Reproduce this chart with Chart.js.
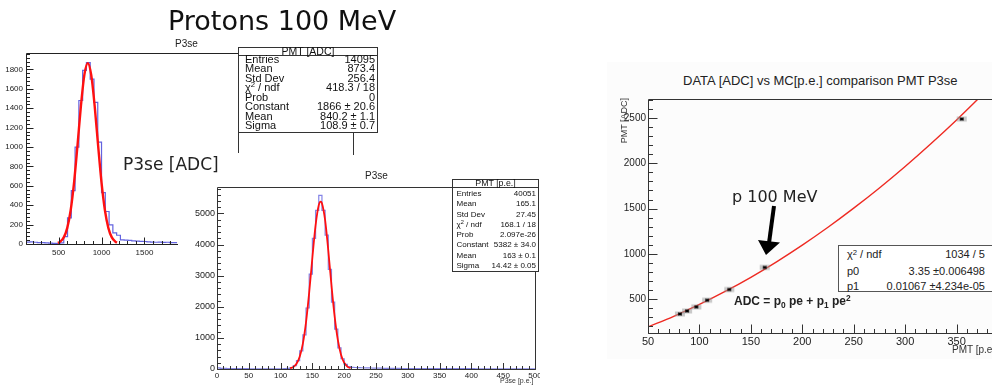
<!DOCTYPE html>
<html>
<head>
<meta charset="utf-8">
<script src="https://cdn.jsdelivr.net/npm/chart.js@4.4.0/dist/chart.umd.min.js"></script>
<style>
html, body { margin: 0; padding: 0; width: 992px; height: 385px; overflow: hidden; background: #fff; }
.box { position: absolute; }
.txt { position: absolute; white-space: nowrap; line-height: 1; color: #111; }
.stats { position: absolute; background: #fff; border: 1px solid #333; box-sizing: border-box;
         font-family: 'Liberation Sans', Arial, sans-serif; color: #111; }
.stats .hdr { text-align: center; border-bottom: 1px solid #333; box-sizing: border-box; }
.stats .row { display: flex; justify-content: space-between; white-space: nowrap; }
.sup { position: relative; top: -0.45em; font-size: 70%; }
.sub { position: relative; top: 0.3em; font-size: 70%; }
</style>
</head>
<body>

<!-- histogramme ADC -->
<div class="box" style="left:0;top:40px;width:360px;height:225px;">
  <canvas id="adcChart" width="360" height="225"></canvas>
</div>
<div class="box" style="left:238px;top:53px;width:1px;height:100px;background:#333;"></div>
<div class="box" style="left:353px;top:130px;width:1px;height:28px;background:#333;"></div>
<div class="txt" style="left:175px;top:38px;font:10px 'Liberation Sans';color:#222;">P3se</div>
<div class="stats" style="left:238px;top:47px;width:140px;height:86px;font-size:11px;">
  <div class="hdr" style="height:8px;line-height:6px;font-size:10.5px;">PMT [ADC]</div>
  <div style="padding:0 2px 0 6px;line-height:9.29px;margin-top:-1px;">
    <div class="row"><span>Entries</span><span>14095</span></div>
    <div class="row"><span>Mean</span><span>873.4</span></div>
    <div class="row"><span>Std Dev</span><span>256.4</span></div>
    <div class="row"><span>χ<span class="sup">2</span> / ndf</span><span>418.3 / 18</span></div>
    <div class="row"><span>Prob</span><span>0</span></div>
    <div class="row"><span>Constant</span><span>1866 ± 20.6</span></div>
    <div class="row"><span>Mean</span><span>840.2 ± 1.1</span></div>
    <div class="row"><span>Sigma</span><span>108.9 ± 0.7</span></div>
  </div>
</div>

<!-- histogramme p.e. -->
<div class="box" style="left:178px;top:155px;width:362px;height:230px;background:#fff;">
  <canvas id="peChart" width="362" height="230"></canvas>
</div>
<div class="txt" style="left:365px;top:170px;font:10px 'Liberation Sans';color:#222;">P3se</div>
<div class="txt" style="left:500px;top:377px;font:7px 'Liberation Sans';color:#333;">P3se [p.e.]</div>
<div class="stats" style="left:452px;top:179px;width:87px;height:93px;font-size:8px;">
  <div class="hdr" style="height:8px;line-height:6px;font-size:8.8px;">PMT [p.e.]</div>
  <div style="padding:0 2px 0 3.5px;line-height:10.29px;margin-top:1px;">
    <div class="row"><span>Entries</span><span>40051</span></div>
    <div class="row"><span>Mean</span><span>165.1</span></div>
    <div class="row"><span>Std Dev</span><span>27.45</span></div>
    <div class="row"><span>χ<span class="sup">2</span> / ndf</span><span>168.1 / 18</span></div>
    <div class="row"><span>Prob</span><span>2.097e-26</span></div>
    <div class="row"><span>Constant</span><span>5382 ± 34.0</span></div>
    <div class="row"><span>Mean</span><span>163 ± 0.1</span></div>
    <div class="row"><span>Sigma</span><span>14.42 ± 0.05</span></div>
  </div>
</div>

<!-- comparaison ADC vs p.e. -->
<div class="box" style="left:607px;top:62px;width:385px;height:297px;background:#fcfcfc;"></div>
<div class="box" style="left:600px;top:90px;width:420px;height:270px;">
  <canvas id="pmtChart" width="420" height="270"></canvas>
</div>
<div class="txt" style="left:683px;top:73px;font:13px 'Liberation Sans';color:#222;">DATA [ADC] vs MC[p.e.] comparison PMT P3se</div>
<div class="txt" style="left:619px;top:158px;width:60px;text-align:right;font:9px 'Liberation Sans';color:#333;transform:rotate(-90deg);transform-origin:0 0;">PMT [ADC]</div>
<div class="txt" style="left:952px;top:344px;font:10px 'Liberation Sans';color:#333;">PMT [p.e.]</div>
<div class="stats" style="left:838px;top:245px;width:162px;height:47px;font-size:11px;border-color:#555;color:#222;">
  <div style="padding:1px 14px 0 8px;line-height:15.5px;">
    <div class="row"><span>χ<span class="sup">2</span> / ndf</span><span>1034 / 5</span></div>
    <div class="row"><span>p0</span><span>3.35 ±0.006498</span></div>
    <div class="row"><span>p1</span><span>0.01067 ±4.234e-05</span></div>
  </div>
</div>
<div class="txt" style="left:734px;top:294px;font:bold 12px 'Liberation Sans';color:#222;">ADC = p<span class="sub">0</span> pe + p<span class="sub">1</span> pe<span class="sup">2</span></div>
<div class="txt" style="left:732px;top:187px;font:16px 'DejaVu Sans';color:#222;">p 100 MeV</div>
<svg class="box" style="left:0;top:0;" width="992" height="385">
  <line x1="774" y1="206" x2="769" y2="243" stroke="#000" stroke-width="4"/>
  <polygon points="758,240 780,242.5 766,255" fill="#000"/>
</svg>

<!-- textes de la diapo -->
<div class="txt" style="left:168px;top:5px;font:27px 'DejaVu Sans';color:#111;">Protons 100 MeV</div>
<div class="txt" style="left:123px;top:154px;font:17px 'DejaVu Sans';color:#222;">P3se [ADC]</div>

<script>
// Histogramme ADC : bins de 44 à partir de 120
const adcBinLo = 120;
const adcBinWidth = 44;
const adcCounts = [20, 22, 18, 15, 14, 12, 10, 6, 4, 12,
                   76, 270, 550, 1000, 1480, 1790, 1870, 1700, 1460, 1050,
                   530, 335, 197, 114, 90, 42, 40, 38, 32, 30,
                   28, 26, 22, 20, 18, 20, 16, 18, 15, 14];
const adcFitX = [490, 520, 560, 600, 640, 680, 720, 760, 800, 840, 880, 920, 960, 1000, 1040, 1080, 1120, 1160, 1180];
const adcFitY = [11, 25, 68, 164, 346, 634, 1017, 1424, 1744, 1866, 1744, 1424, 1017, 634, 346, 164, 68, 25, 14];
const adcXTicks = [500, 1000, 1500, 2000, 2500, 3000, 3500];
const adcYTicks = [0, 200, 400, 600, 800, 1000, 1200, 1400, 1600, 1800];

// Histogramme p.e. : bins de 5 de 0 à 500
const peBinWidth = 5;
const peCounts = [35, 20, 18, 15, 14, 12, 12, 10, 10, 9, 8, 8, 8, 7, 7, 6, 6, 6, 6, 5,
                  6, 10, 18, 45, 110, 270, 580, 1100, 1960, 3050, 4200, 5100, 5580, 5100, 4300, 3200, 2150, 1280, 680, 330,
                  150, 75, 55, 48, 45, 40, 38, 35, 32, 30, 28, 25,
                  22, 20, 20, 18, 18, 17, 16, 16, 15, 15, 14, 14, 13, 13, 12, 12, 12, 11, 11, 11,
                  10, 10, 10, 10, 9, 9, 9, 9, 9, 8, 8, 8, 8, 8, 8, 7, 7, 7, 7, 7, 7, 6, 6, 6, 6, 6, 6, 5];
const peFitX = [115, 120, 125, 130, 135, 140, 145, 150, 155, 160, 163, 165, 170, 175, 180, 185, 190, 195, 200, 205, 210];
const peFitY = [21, 63, 167, 392, 817, 1509, 2470, 3585, 4615, 5267, 5382, 5331, 4784, 3807, 2686, 1681, 933, 459, 200, 77, 27];
const peXTicks = [0, 50, 100, 150, 200, 250, 300, 350, 400, 450, 500];
const peYTicks = [0, 1000, 2000, 3000, 4000, 5000];

// Comparaison DATA vs MC
const pmtPe = [81, 88, 97, 107.5, 129, 163.5, 355];
const pmtAdc = [337, 370, 415, 489, 607, 851, 2489];
const pmtFitX = [50, 75, 100, 125, 150, 175, 200, 225, 250, 275, 300, 325, 350, 375];
const pmtFitY = [194, 311, 442, 586, 742, 913, 1097, 1294, 1505, 1728, 1965, 2216, 2479, 2756];
const pmtXTicks = [50, 100, 150, 200, 250, 300, 350, 400];
const pmtYTicks = [500, 1000, 1500, 2000, 2500];

// cadre + graduations vers l'intérieur (style ROOT)
const rootFrame = {
    id: 'rootFrame',
    afterDatasetsDraw(chart, args, o) {
        const ctx = chart.ctx;
        const a = chart.chartArea;
        const x = chart.scales.x, y = chart.scales.y;
        const L = Math.round(a.left) + 0.5, R = Math.round(a.right) + 0.5;
        const T = Math.round(a.top) + 0.5, B = Math.round(a.bottom) + 0.5;
        ctx.save();
        ctx.strokeStyle = o.color;
        ctx.lineWidth = 1;
        ctx.beginPath();
        ctx.rect(L, T, R - L, B - T);
        x.ticks.forEach(t => {
            const p = Math.round(x.getPixelForValue(t.value)) + 0.5;
            ctx.moveTo(p, B); ctx.lineTo(p, B - o.major);
        });
        for (let v = Math.ceil(x.min / o.xMinor) * o.xMinor; v <= x.max; v += o.xMinor) {
            const p = Math.round(x.getPixelForValue(v)) + 0.5;
            ctx.moveTo(p, B); ctx.lineTo(p, B - o.minor);
        }
        y.ticks.forEach(t => {
            const p = Math.round(y.getPixelForValue(t.value)) + 0.5;
            ctx.moveTo(L, p); ctx.lineTo(L + o.major, p);
        });
        for (let v = Math.ceil(y.min / o.yMinor) * o.yMinor; v <= y.max; v += o.yMinor) {
            const p = Math.round(y.getPixelForValue(v)) + 0.5;
            ctx.moveTo(L, p); ctx.lineTo(L + o.minor, p);
        }
        ctx.stroke();
        ctx.restore();
    }
};

function axis(min, max, ticks, size, fit, pad) {
    return {
        type: 'linear', min: min, max: max,
        afterBuildTicks: s => { s.ticks = ticks.map(v => ({ value: v })); },
        afterFit: s => {
            if (s.isHorizontal()) s.height = fit; else s.width = fit;
            s.paddingLeft = s.paddingRight = s.paddingTop = s.paddingBottom = 0;
        },
        grid: { display: false, drawTicks: false },
        border: { display: false },
        ticks: {
            padding: pad, color: '#222', autoSkip: false, maxRotation: 0,
            font: { family: 'Liberation Sans', size: size },
            callback: v => String(v)
        }
    };
}

function histPoints(lo, width, counts) {
    const pts = counts.map((c, i) => ({ x: lo + i * width, y: c }));
    pts.push({ x: lo + counts.length * width, y: counts[counts.length - 1] });
    return pts;
}

function pairs(xs, ys) {
    return xs.map((v, i) => ({ x: v, y: ys[i] }));
}

const common = {
    responsive: false,
    animation: false,
    devicePixelRatio: 1,
    plugins: { legend: { display: false }, tooltip: { enabled: false } }
};

new Chart(document.getElementById('adcChart'), {
    type: 'line',
    data: {
        datasets: [{
            data: pairs(adcFitX, adcFitY),
            borderColor: '#ff1010', borderWidth: 2.4, pointRadius: 0,
            cubicInterpolationMode: 'monotone'
        }, {
            data: histPoints(adcBinLo, adcBinWidth, adcCounts),
            borderColor: 'rgba(60,60,215,0.8)', borderWidth: 1.2, pointRadius: 0,
            stepped: 'before'
        }]
    },
    options: Object.assign({}, common, {
        layout: { padding: { left: 0, top: 13, right: 7, bottom: 0 } },
        scales: {
            x: axis(120, 3930, adcXTicks, 8, 21, 4),
            y: axis(0, 1970, adcYTicks, 8, 26, 3)
        },
        plugins: Object.assign({}, common.plugins, {
            rootFrame: { color: '#222', major: 7, minor: 3.5, xMinor: 100, yMinor: 40 }
        })
    }),
    plugins: [rootFrame]
});

new Chart(document.getElementById('peChart'), {
    type: 'line',
    data: {
        datasets: [{
            data: pairs(peFitX, peFitY),
            borderColor: '#ff1010', borderWidth: 1.8, pointRadius: 0,
            cubicInterpolationMode: 'monotone'
        }, {
            data: histPoints(0, peBinWidth, peCounts),
            borderColor: 'rgba(80,80,220,0.7)', borderWidth: 1.2, pointRadius: 0,
            stepped: 'before'
        }]
    },
    options: Object.assign({}, common, {
        layout: { padding: { left: 0, top: 32, right: 5, bottom: 0 } },
        scales: {
            x: axis(0, 500, peXTicks, 8, 16, 2),
            y: axis(0, 5850, peYTicks, 9, 39, 2)
        },
        plugins: Object.assign({}, common.plugins, {
            rootFrame: { color: '#333', major: 6.5, minor: 3.5, xMinor: 10, yMinor: 200 }
        })
    }),
    plugins: [rootFrame]
});

// marqueur : boîte grise d'erreur + étoile noire
const marker = document.createElement('canvas');
marker.width = 12; marker.height = 8;
(function () {
    const c = marker.getContext('2d');
    c.fillStyle = 'rgba(150,150,150,0.5)';
    c.fillRect(1, 1.5, 10, 5);
    c.strokeStyle = '#000';
    c.lineWidth = 1.1;
    c.beginPath();
    c.moveTo(4.5, 2.5); c.lineTo(7.5, 5.5); c.moveTo(7.5, 2.5); c.lineTo(4.5, 5.5);
    c.moveTo(4, 4); c.lineTo(8, 4);
    c.stroke();
})();

new Chart(document.getElementById('pmtChart'), {
    type: 'scatter',
    data: {
        datasets: [{
            data: pairs(pmtPe, pmtAdc),
            pointStyle: marker, pointRadius: 4, showLine: false
        }, {
            data: pairs(pmtFitX, pmtFitY),
            showLine: true, borderColor: '#ee2a22', borderWidth: 1.4, pointRadius: 0,
            cubicInterpolationMode: 'monotone'
        }]
    },
    options: Object.assign({}, common, {
        layout: { padding: { left: 0, top: 9, right: 12, bottom: 0 } },
        scales: {
            x: axis(50, 400, pmtXTicks, 11, 27, 2),
            y: axis(127, 2710, pmtYTicks, 10, 48, 2)
        },
        plugins: Object.assign({}, common.plugins, {
            rootFrame: { color: '#333', major: 9, minor: 4.5, xMinor: 10, yMinor: 100 }
        })
    }),
    plugins: [rootFrame]
});
</script>
</body>
</html>
